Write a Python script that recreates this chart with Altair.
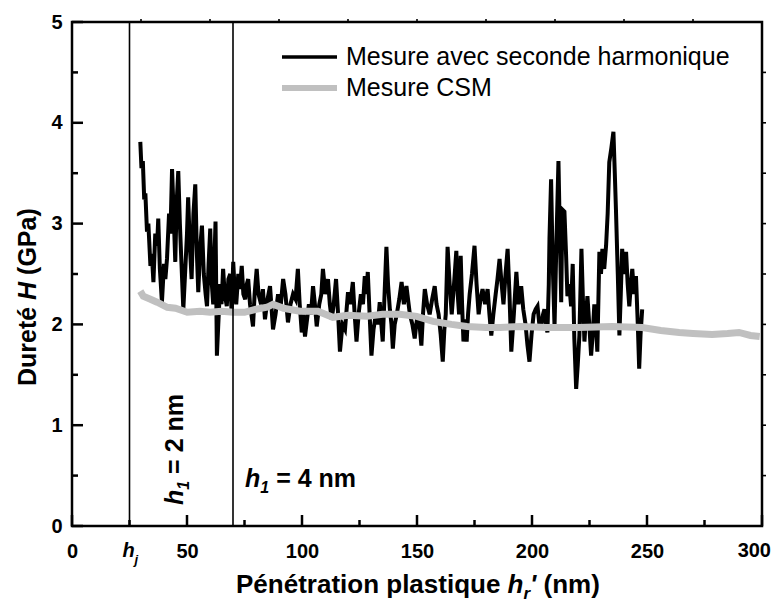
import altair as alt
import pandas as pd

alt.data_transformers.consolidate_datasets = False

# ---------------- data ----------------
black_x = [29.7, 30.2, 30.8, 31.4, 31.9, 32.6, 33.2, 34.1, 34.7, 35.4, 36.2, 37.0, 37.5, 38.2, 39.1, 40.0,
           40.6, 41.3, 42.2, 42.8, 43.5, 44.2, 44.9, 45.5, 46.2, 46.9, 47.6, 48.4, 49.2, 50.0, 50.5, 51.2,
           52.0, 52.8, 53.6, 54.3, 54.9, 55.7, 56.5, 57.3, 58.1, 58.7, 59.4, 60.1, 60.8, 61.4, 62.0, 62.4,
           63.0, 63.6, 64.4, 65.0, 65.7, 66.4, 67.3, 68.0, 68.8, 69.4, 70.1, 70.8, 71.4, 72.3, 73.0, 73.8,
           74.5, 75.3, 76.0, 76.6, 77.4, 78.0, 78.7, 79.4, 80.3, 81.1, 82.2, 83.0, 83.9, 85.0, 86.1, 86.8,
           87.4, 88.5, 89.6, 90.6, 91.8, 92.8, 93.9, 95.0, 96.1, 97.2, 98.2, 99.0, 99.9, 100.6, 101.3, 102.2,
           103.0, 103.9, 104.8, 105.6, 106.4, 107.5, 108.4, 109.1, 110.2, 111.3, 112.1, 112.9, 113.8, 114.8,
           115.7, 116.5, 117.6, 118.7, 119.4, 120.0, 121.0, 122.1, 122.9, 123.7, 124.6, 125.6, 126.5, 127.3,
           128.0, 128.6, 129.4, 130.2, 131.1, 132.1, 133.0, 133.8, 134.5, 135.1, 135.9, 136.7, 137.4, 138.2,
           138.9, 139.5, 140.3, 141.2, 142.3, 143.3, 144.3, 145.4, 146.1, 146.9, 148.0, 149.0, 149.7, 150.3,
           151.1, 151.9, 152.6, 153.4, 154.4, 155.5, 156.6, 157.7, 158.5, 159.4, 160.3, 161.2, 161.9, 162.5,
           163.3, 164.2, 165.1, 166.1, 167.1, 167.7, 168.3, 169.0, 169.6, 170.2, 170.9, 171.6, 172.2, 172.9,
           173.9, 175.0, 175.9, 176.8, 177.6, 178.5, 179.6, 180.7, 181.5, 182.3, 183.2, 184.2, 185.0, 185.9,
           186.8, 187.6, 188.5, 189.4, 190.2, 191.0, 192.1, 193.2, 194.1, 195.3, 196.2, 197.2, 198.0, 198.9,
           199.8, 200.7, 201.6, 202.4, 203.2, 204.1, 204.8, 205.4, 206.1, 206.7, 207.3, 207.6, 208.3, 209.0,
           209.8, 210.6, 211.5, 212.1, 212.7, 213.2, 214.1, 214.8, 215.4, 216.2, 217.0, 217.7, 218.4, 219.2,
           219.9, 220.6, 221.5, 222.2, 222.8, 223.5, 224.1, 224.9, 225.7, 226.4, 227.1, 227.8, 228.4, 229.3,
           230.0, 230.6, 231.4, 232.2, 232.9, 233.6, 234.5, 235.4, 236.0, 236.5, 237.3, 238.0, 238.6, 239.2,
           240.0, 240.9, 241.6, 242.3, 243.0, 243.6, 244.4, 245.2, 246.0, 246.6, 247.2, 247.9]
black_y = [3.81, 3.55, 3.62, 3.24, 3.30, 2.92, 3.00, 2.58, 2.70, 2.42, 2.90, 2.78, 3.05, 2.55, 2.22, 2.60,
           2.45, 2.65, 3.10, 2.90, 3.54, 3.10, 2.62, 3.20, 3.52, 3.00, 2.60, 2.15, 2.52, 2.90, 3.26, 2.80,
           2.45, 3.10, 3.39, 2.70, 2.32, 2.75, 2.98, 2.50, 2.30, 2.18, 2.60, 2.95, 2.40, 2.20, 2.70, 3.02,
           1.69, 2.00, 2.40, 2.20, 2.55, 2.30, 2.18, 2.45, 2.50, 2.10, 2.62, 2.30, 2.20, 2.50, 2.35, 2.58,
           2.30, 2.25, 2.40, 2.45, 2.20, 2.10, 1.98, 2.30, 2.55, 2.30, 2.20, 2.35, 2.05, 2.25, 2.38, 2.15,
           1.95, 2.10, 2.30, 2.15, 2.45, 2.30, 2.02, 2.20, 2.30, 2.25, 2.55, 2.20, 1.92, 2.10, 1.88, 2.05,
           2.20, 2.10, 2.38, 2.20, 1.98, 2.20, 2.30, 2.55, 2.30, 2.45, 2.20, 2.05, 2.20, 2.45,
           2.10, 1.73, 2.00, 1.95, 2.15, 2.32, 2.20, 2.42, 2.10, 1.83, 2.10, 2.30, 2.20, 2.48,
           2.30, 2.52, 2.10, 1.69, 1.95, 2.10, 2.00, 2.22, 2.00, 1.83, 2.30, 2.77, 2.40, 2.15,
           2.00, 1.76, 2.00, 2.10, 2.25, 2.42, 2.20, 2.38, 2.25, 2.10, 2.00, 1.86, 2.00, 2.10,
           2.00, 1.79, 2.10, 2.35, 2.20, 2.10, 2.25, 2.38, 2.20, 2.10, 1.90, 1.63, 1.95, 2.10,
           2.77, 2.40, 2.10, 2.40, 2.73, 2.30, 2.10, 2.68, 2.20, 1.83, 2.05, 1.83, 2.10, 2.30,
           2.50, 2.78, 2.40, 2.10, 2.25, 2.35, 2.20, 2.35, 2.10, 1.89, 2.10, 2.30, 2.45, 2.65,
           2.40, 2.20, 2.50, 2.75, 2.30, 1.73, 2.10, 2.52, 2.20, 2.38, 2.15, 2.00, 1.80, 1.63,
           1.90, 2.10, 2.15, 2.18, 2.00, 2.00, 2.10, 2.15, 2.00, 1.92, 2.40, 2.85, 3.44, 2.60,
           1.98, 2.80, 3.62, 2.90, 2.22, 3.14, 3.12, 2.70, 2.28, 2.40, 2.18, 2.60, 1.86, 1.36,
           1.60, 1.89, 2.75, 2.20, 1.83, 2.10, 2.28, 2.00, 1.69, 1.90, 2.20, 2.00, 1.73, 2.72,
           2.50, 2.75, 2.55, 2.78, 3.10, 3.61, 3.75, 3.91, 3.50, 3.14, 2.50, 1.89, 2.30, 2.75,
           2.50, 2.72, 2.40, 2.18, 2.40, 2.55, 2.30, 2.48, 2.00, 1.56, 1.90, 2.15]

gray_x = [29.7, 31.0, 34.1, 37.0, 41.4, 45.0, 50.1, 55.7, 60.0, 65.0, 70.1, 75.0, 80.0, 84.8, 87.4, 92.0,
          99.1, 106.9, 113.4, 120.0, 128.2, 135.0, 142.5, 149.9, 157.0, 165.0, 171.7, 180.0, 186.0, 195.0,
          206.3, 220.0, 234.9, 247.9, 256.0, 264.0, 270.0, 278.3, 285.0, 290.0, 295.0, 299.0]
gray_y = [2.33, 2.28, 2.25, 2.22, 2.17, 2.16, 2.12, 2.13, 2.12, 2.13, 2.12, 2.12, 2.15, 2.17, 2.20, 2.16,
          2.13, 2.13, 2.07, 2.09, 2.08, 2.10, 2.10, 2.08, 2.03, 2.00, 1.98, 1.97, 1.97, 1.98,
          1.97, 1.97, 1.98, 1.97, 1.94, 1.92, 1.91, 1.90, 1.91, 1.92, 1.89, 1.88]

vline_x = [25, 70]
x_domain = [0, 300]
y_domain = [0, 5]
x_major = [0, 50, 100, 150, 200, 250, 300]
x_minor = [25, 75, 125, 175, 225, 275]
y_major = [0, 1, 2, 3, 4, 5]
y_minor = [0.5, 1.5, 2.5, 3.5, 4.5]
top_ticks = [30, 60, 90, 120, 150, 180, 210, 240, 270]
right_ticks = [0.5, 1, 1.5, 2, 2.5, 3, 3.5, 4, 4.5]

legend_labels = ["Mesure avec seconde harmonique", "Mesure CSM"]
ytitle_parts = ["Dureté", "H", "(GPa)"]
xtitle_parts = ["Pénétration plastique", "h", "r", "'", "(nm)"]
hj_parts = ["h", "j"]
last_label = "300"
ann1_parts = ["h", "1", "= 2 nm"]
ann2_parts = ["h", "1", "= 4 nm"]

# ---------------- layout ----------------
W, H = 690, 504
FONT = "Liberation Sans"
GRAY = "#c0c0c0"
PX_X = (x_domain[1] - x_domain[0]) / W   # data units per pixel along x
PX_Y = (y_domain[1] - y_domain[0]) / H   # data units per pixel along y

xs = alt.Scale(domain=x_domain, nice=False, zero=False)
ys = alt.Scale(domain=y_domain, nice=False)

x_axis = alt.Axis(values=x_major, title=None, ticks=False, domain=False, grid=False,
                  labelFont=FONT, labelFontSize=20, labelFontWeight="bold", labelColor="black",
                  labelPadding=15, labelFlush=False,
                  labelExpr="datum.value == 300 ? '' : datum.label")
y_axis = alt.Axis(values=y_major, title=None, ticks=False, domain=False, grid=False,
                  labelFont=FONT, labelFontSize=20, labelFontWeight="bold", labelColor="black",
                  labelPadding=10, labelFlush=False)


def X(field="x"):
    return alt.X(f"{field}:Q", scale=xs, axis=x_axis)


def Y(field="y"):
    return alt.Y(f"{field}:Q", scale=ys, axis=y_axis)


black = alt.Chart(pd.DataFrame({"x": black_x, "y": black_y})).mark_line(
    color="black", strokeWidth=4).encode(x=X(), y=Y())
gray = alt.Chart(pd.DataFrame({"x": gray_x, "y": gray_y})).mark_line(
    color=GRAY, strokeWidth=7).encode(x=X(), y=Y())

# frame as a closed line through the four corners of the plot domain
fx = [x_domain[0], x_domain[1], x_domain[1], x_domain[0], x_domain[0]]
fy = [y_domain[0], y_domain[0], y_domain[1], y_domain[1], y_domain[0]]
frame = alt.Chart(pd.DataFrame({"x": fx, "y": fy, "o": list(range(5))})).mark_line(
    color="black", strokeWidth=2.5, strokeCap="square", strokeJoin="miter").encode(
    x=X(), y=Y(), order="o:Q")

# tick marks as short two-point line segments (inward on bottom/left, small outward on top/right)
seg_rows = []


def add_x_ticks(vals, y0, length_px, group):
    for i, v in enumerate(vals):
        seg_rows.append({"x": v, "y": y0, "o": 0, "s": f"{group}{i}", "g": group})
        seg_rows.append({"x": v, "y": y0 + length_px * PX_Y, "o": 1, "s": f"{group}{i}", "g": group})


def add_y_ticks(vals, x0, length_px, group):
    for i, v in enumerate(vals):
        seg_rows.append({"x": x0, "y": v, "o": 0, "s": f"{group}{i}", "g": group})
        seg_rows.append({"x": x0 + length_px * PX_X, "y": v, "o": 1, "s": f"{group}{i}", "g": group})


add_x_ticks(x_major, y_domain[0], 11, "xM")
add_x_ticks(x_minor, y_domain[0], 6, "xm")
add_y_ticks(y_major, x_domain[0], 11, "yM")
add_y_ticks(y_minor, x_domain[0], 6, "ym")
tick_df = pd.DataFrame(seg_rows)

add_x_ticks_small = []
small_rows = []
for i, v in enumerate(top_ticks):
    small_rows.append({"x": v, "y": y_domain[1], "o": 0, "s": f"t{i}"})
    small_rows.append({"x": v, "y": y_domain[1] + 3 * PX_Y, "o": 1, "s": f"t{i}"})
for i, v in enumerate(right_ticks):
    small_rows.append({"x": x_domain[1], "y": v, "o": 0, "s": f"r{i}"})
    small_rows.append({"x": x_domain[1] + 4 * PX_X, "y": v, "o": 1, "s": f"r{i}"})
small_df = pd.DataFrame(small_rows)

ticks_main = alt.Chart(tick_df).mark_line(color="black", strokeWidth=2.5).encode(
    x=X(), y=Y(), detail="s:N", order="o:Q")
ticks_small = alt.Chart(small_df).mark_line(color="black", strokeWidth=1.6).encode(
    x=X(), y=Y(), detail="s:N", order="o:Q")

vlines = alt.Chart(pd.DataFrame({"x": vline_x})).mark_rule(color="black", strokeWidth=1.6).encode(
    x=X(), y=alt.value(0), y2=alt.value(H))


def txt(s, x, y, size, weight="bold", style="normal", angle=0, align="left", baseline="alphabetic", color="black"):
    return alt.Chart(pd.DataFrame({"t": [s]})).mark_text(
        font=FONT, fontSize=size, fontWeight=weight, fontStyle=style, angle=angle,
        align=align, baseline=baseline, color=color).encode(
        text="t:N", x=alt.value(x), y=alt.value(y))


texts = []
# y title (rotated)
texts.append(txt(ytitle_parts[0], -44, 364, 25, angle=270, baseline="middle"))
texts.append(txt(ytitle_parts[1], -44, 277.9, 25, style="italic", angle=270, baseline="middle"))
texts.append(txt(ytitle_parts[2], -44, 252.9, 25, angle=270, baseline="middle"))
# x title
texts.append(txt(xtitle_parts[0], 164, 571, 26))
texts.append(txt(xtitle_parts[1], 435.6, 571, 26, style="italic"))
texts.append(txt(xtitle_parts[2], 451.5, 577, 17, style="italic"))
texts.append(txt(xtitle_parts[3], 458.1, 571, 26, style="italic"))
texts.append(txt(xtitle_parts[4], 471.5, 571, 26))
# h_j tick label and last tick label
texts.append(txt(hj_parts[0], 56.5, 535, 20, style="italic", align="center"))
texts.append(txt(hj_parts[1], 62.5, 542, 13, style="italic"))
texts.append(txt(last_label, 699, 535, 20, align="right"))
# annotation h1 = 4 nm
texts.append(txt(ann2_parts[0], 173, 465, 25, style="italic"))
texts.append(txt(ann2_parts[1], 188.3, 471, 16, style="italic"))
texts.append(txt(ann2_parts[2], 204.2, 465, 25))
# annotation h1 = 2 nm (rotated)
texts.append(txt(ann1_parts[0], 111, 483, 25, style="italic", angle=270))
texts.append(txt(ann1_parts[1], 117, 467.7, 16, style="italic", angle=270))
texts.append(txt(ann1_parts[2], 111, 451.9, 25, angle=270))

# legend
leg = [
    alt.Chart(pd.DataFrame({"t": [legend_labels[0]]})).mark_rule(color="black", strokeWidth=3.5).encode(
        x=alt.value(210), x2=alt.value(265), y=alt.value(35)),
    alt.Chart(pd.DataFrame({"t": [legend_labels[1]]})).mark_rule(color=GRAY, strokeWidth=6).encode(
        x=alt.value(210), x2=alt.value(265), y=alt.value(66)),
    txt(legend_labels[0], 274, 35, 25, weight="normal", baseline="middle"),
    txt(legend_labels[1], 274, 66, 25, weight="normal", baseline="middle"),
]

chart = alt.layer(black, gray, frame, ticks_main, ticks_small, vlines, *texts, *leg).properties(
    width=W, height=H,
    padding={"left": 64, "top": 14, "right": 10, "bottom": 76},
    autosize=alt.AutoSizeParams(type="none"),
).configure_view(strokeWidth=0).configure_axis(grid=False)

chart.save("out.html", embed_options={"renderer": "svg", "actions": False})
